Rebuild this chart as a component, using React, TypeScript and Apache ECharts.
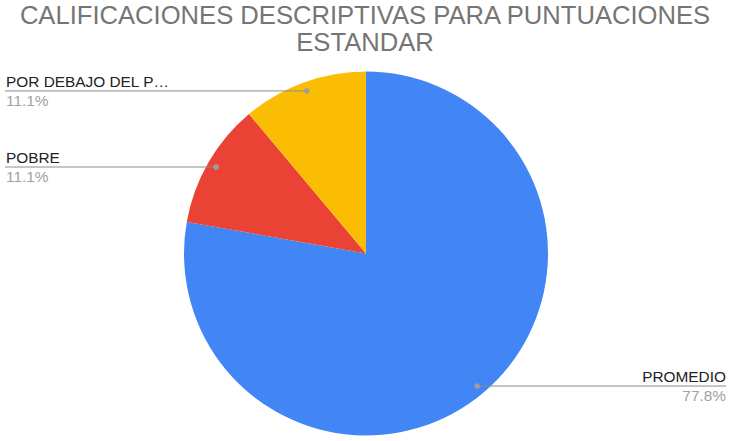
import React, { useEffect, useRef } from "react";
import * as echarts from "echarts";

const categories = ["PROMEDIO", "POBRE", "POR DEBAJO DEL P…"];
const values = [7, 1, 1];
const colors = ["#4285F4", "#EA4335", "#FBBC04"];
const titleLines = ["CALIFICACIONES DESCRIPTIVAS PARA PUNTUACIONES", "ESTANDAR"];

const W = 730;
const H = 441;
const CX = 366;
const CY = 253.5;
const R = 182;
const DOT_R = 173;
const FONT = "'Liberation Sans', Arial, sans-serif";

export default function App() {
  const ref = useRef<HTMLDivElement>(null);

  useEffect(() => {
    if (!ref.current) return;
    const chart = echarts.init(ref.current, undefined, { renderer: "svg" });
    const total = values.reduce((a, b) => a + b, 0);
    const graphics: any[] = [];
    let cum = 0;
    values.forEach((v, i) => {
      const mid = ((cum + v / 2) / total) * Math.PI * 2;
      cum += v;
      const dx = Math.sin(mid);
      const dy = -Math.cos(mid);
      const px = CX + DOT_R * dx;
      const py = CY + DOT_R * dy;
      const left = dx < 0;
      const pct = ((v / total) * 100).toFixed(1) + "%";
      graphics.push({
        type: "line",
        z: 10,
        shape: { x1: left ? 5 : px, y1: py, x2: left ? px : 726, y2: py },
        style: { stroke: "#8c8c8c", lineWidth: 1 },
      });
      graphics.push({
        type: "circle",
        z: 11,
        shape: { cx: px, cy: py, r: 2.8 },
        style: { fill: "#9e9e9e" },
      });
      graphics.push({
        type: "text",
        z: 11,
        x: left ? 6 : 726,
        y: py - 2,
        style: {
          text: categories[i],
          fill: "#222222",
          font: `15.4px ${FONT}`,
          align: left ? "left" : "right",
          verticalAlign: "bottom",
        },
      });
      graphics.push({
        type: "text",
        z: 11,
        x: left ? 6 : 726,
        y: py + 2,
        style: {
          text: pct,
          fill: "#a0a0a0",
          font: `15.4px ${FONT}`,
          align: left ? "left" : "right",
          verticalAlign: "top",
        },
      });
    });

    chart.setOption({
      animation: false,
      title: {
        text: titleLines.join("\n"),
        left: "center",
        top: -4,
        textStyle: {
          fontFamily: FONT,
          fontSize: 25.6,
          fontWeight: "normal",
          color: "#757575",
          lineHeight: 27,
        },
      },
      series: [
        {
          type: "pie",
          center: [CX, CY],
          radius: R,
          startAngle: 90,
          clockwise: true,
          silent: true,
          label: { show: false },
          labelLine: { show: false },
          itemStyle: { borderWidth: 0 },
          data: categories.map((c, i) => ({
            name: c,
            value: values[i],
            itemStyle: { color: colors[i] },
          })),
        },
      ],
      graphic: graphics,
    });
    return () => chart.dispose();
  }, []);

  return (
    <div
      ref={ref}
      style={{ position: "absolute", left: 0, top: 0, width: W, height: H, background: "#fff" }}
    />
  );
}
